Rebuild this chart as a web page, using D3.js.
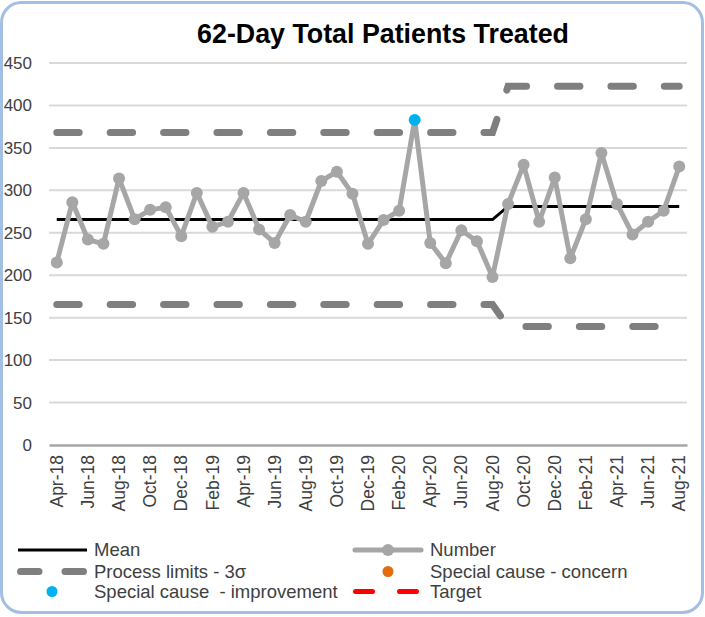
<!DOCTYPE html>
<html>
<head>
<meta charset="utf-8">
<script src="https://cdn.jsdelivr.net/npm/d3@7"></script>
<style>
  body { margin: 0; background: #fff; }
  text { font-family: "Liberation Sans", Arial, sans-serif; }
</style>
</head>
<body>
<div id="chart"></div>
<script>
// months on the x axis
var months = ["Apr-18","May-18","Jun-18","Jul-18","Aug-18","Sep-18","Oct-18","Nov-18","Dec-18","Jan-19",
    "Feb-19","Mar-19","Apr-19","May-19","Jun-19","Jul-19","Aug-19","Sep-19","Oct-19","Nov-19",
    "Dec-19","Jan-20","Feb-20","Mar-20","Apr-20","May-20","Jun-20","Jul-20","Aug-20","Sep-20",
    "Oct-20","Nov-20","Dec-20","Jan-21","Feb-21","Mar-21","Apr-21","May-21","Jun-21","Jul-21","Aug-21"];

// patients treated per month
var number = [215, 286, 242, 237, 314, 266, 277, 280, 246, 297, 257, 263, 297, 254, 238, 271, 263, 311, 322, 296,
    237, 265, 276, 383, 238, 214, 253, 240, 198, 284, 330, 263, 315, 220, 266, 344, 284, 248, 263, 276, 328];

var mean = [265.5,265.5,265.5,265.5,265.5,265.5,265.5,265.5,265.5,265.5,265.5,265.5,265.5,265.5,265.5,
    265.5,265.5,265.5,265.5,265.5,265.5,265.5,265.5,265.5,265.5,265.5,265.5,265.5,265.5,
    281,281,281,281,281,281,281,281,281,281,281,281];
var upper = [368,368,368,368,368,368,368,368,368,368,368,368,368,368,368,368,368,368,368,368,
    368,368,368,368,368,368,368,368,368,
    422.5,422.5,422.5,422.5,422.5,422.5,422.5,422.5,422.5,422.5,422.5,422.5];
var lower = [165.5,165.5,165.5,165.5,165.5,165.5,165.5,165.5,165.5,165.5,165.5,165.5,165.5,165.5,165.5,
    165.5,165.5,165.5,165.5,165.5,165.5,165.5,165.5,165.5,165.5,165.5,165.5,165.5,165.5,
    139.5,139.5,139.5,139.5,139.5,139.5,139.5,139.5,139.5,139.5,139.5,139.5];

// special cause points (improvement)
var improvement = ["Mar-20"];

var yTicks = [0, 50, 100, 150, 200, 250, 300, 350, 400, 450];
var xTickLabels = months.filter(function(d, i) { return i % 2 === 0; });

var w = 705, h = 617;
var margin = {top: 63, right: 18, bottom: 172, left: 49};

var svg = d3.select("#chart").append("svg")
    .attr("width", w)
    .attr("height", h);

// outer rounded frame
svg.append("rect")
    .attr("x", 1.5).attr("y", 2.5)
    .attr("width", 701).attr("height", 610)
    .attr("rx", 20).attr("ry", 20)
    .attr("fill", "#fff")
    .attr("stroke", "#a3bfe3")
    .attr("stroke-width", 3);

svg.append("text")
    .attr("x", 383).attr("y", 43)
    .attr("text-anchor", "middle")
    .attr("font-size", "26.8px")
    .attr("font-weight", "bold")
    .attr("fill", "#000")
    .text("62-Day Total Patients Treated");

var xScale = d3.scaleBand()
    .domain(months)
    .range([margin.left, w - margin.right]);

var yScale = d3.scaleLinear()
    .domain([0, 450])
    .range([h - margin.bottom, margin.top]);

var cx = function(i) { return xScale(months[i]) + xScale.bandwidth() / 2; };

// gridlines
svg.append("g").selectAll("line").data(yTicks.filter(function(d) { return d > 0; }))
    .enter().append("line")
    .attr("x1", margin.left).attr("x2", w - margin.right)
    .attr("y1", function(d) { return yScale(d); })
    .attr("y2", function(d) { return yScale(d); })
    .attr("stroke", "#d9d9d9")
    .attr("stroke-width", 2);

// y axis labels only
var yAxis = d3.axisLeft(yScale).tickValues(yTicks).tickSize(0).tickPadding(17);
var yAxisGroup = svg.append("g")
    .attr("transform", "translate(" + [margin.left, 0] + ")")
    .call(yAxis);
yAxisGroup.select(".domain").remove();
yAxisGroup.selectAll("text")
    .attr("font-size", "17px")
    .attr("fill", "#404040")
    .style("font-family", "'Liberation Sans', Arial, sans-serif");

// x axis
var xAxis = d3.axisBottom(xScale).tickValues(xTickLabels).tickSize(0).tickPadding(0);
var xAxisGroup = svg.append("g")
    .attr("transform", "translate(" + [0, h - margin.bottom] + ")")
    .call(xAxis);
xAxisGroup.select(".domain")
    .attr("stroke", "#a6a6a6")
    .attr("stroke-width", 2.5);
xAxisGroup.selectAll("text")
    .attr("font-size", "17.5px")
    .attr("fill", "#404040")
    .style("font-family", "'Liberation Sans', Arial, sans-serif")
    .attr("text-anchor", "end")
    .attr("transform", "translate(0,10) rotate(-90)")
    .attr("x", 0).attr("y", 0)
    .attr("dy", "0.35em");

var line = d3.line()
    .x(function(d, i) { return cx(i); })
    .y(function(d) { return yScale(d); });

// mean
svg.append("path")
    .datum(mean)
    .attr("d", line)
    .attr("fill", "none")
    .attr("stroke", "#000")
    .attr("stroke-width", 3);

// process limits
[upper, lower].forEach(function(lim) {
    svg.append("path")
        .datum(lim)
        .attr("d", line)
        .attr("fill", "none")
        .attr("stroke", "#7f7f7f")
        .attr("stroke-width", 7)
        .attr("stroke-linecap", "round")
        .attr("stroke-dasharray", "22.4,31");
});

// number series
svg.append("path")
    .datum(number)
    .attr("d", line)
    .attr("fill", "none")
    .attr("stroke", "#a6a6a6")
    .attr("stroke-width", 5)
    .attr("stroke-linejoin", "round");

svg.append("g").selectAll("circle").data(number)
    .enter().append("circle")
    .attr("cx", function(d, i) { return cx(i); })
    .attr("cy", function(d) { return yScale(d); })
    .attr("r", 6)
    .attr("fill", function(d, i) { return improvement.indexOf(months[i]) >= 0 ? "#00b0f0" : "#a6a6a6"; });

// legend
var lg = svg.append("g").attr("font-size", "18.5px").attr("fill", "#404040");
function legText(x, y, t) {
    lg.append("text").attr("x", x).attr("y", y).attr("fill", "#404040")
        .attr("xml:space", "preserve").text(t);
}
lg.append("line").attr("x1", 18).attr("x2", 87).attr("y1", 550).attr("y2", 550)
    .attr("stroke", "#000").attr("stroke-width", 3);
legText(94, 556, "Mean");

lg.append("line").attr("x1", 20.5).attr("x2", 84).attr("y1", 571.5).attr("y2", 571.5)
    .attr("stroke", "#7f7f7f").attr("stroke-width", 7).attr("stroke-linecap", "round")
    .attr("stroke-dasharray", "18.5,26");
legText(94, 578, "Process limits - 3\u03c3");

lg.append("circle").attr("cx", 52).attr("cy", 591.5).attr("r", 5.5).attr("fill", "#00b0f0");
legText(94, 598, "Special cause  - improvement");

lg.append("line").attr("x1", 355).attr("x2", 421).attr("y1", 550).attr("y2", 550)
    .attr("stroke", "#a6a6a6").attr("stroke-width", 5).attr("stroke-linecap", "round");
lg.append("circle").attr("cx", 388).attr("cy", 550).attr("r", 6).attr("fill", "#a6a6a6");
legText(430, 556, "Number");

lg.append("circle").attr("cx", 388).attr("cy", 571.5).attr("r", 5.5).attr("fill", "#e46c0a");
legText(430, 578, "Special cause - concern");

lg.append("line").attr("x1", 355.5).attr("x2", 420).attr("y1", 591.5).attr("y2", 591.5)
    .attr("stroke", "#ff0000").attr("stroke-width", 5).attr("stroke-linecap", "round")
    .attr("stroke-dasharray", "17,27");
legText(430, 598, "Target");
</script>
</body>
</html>
